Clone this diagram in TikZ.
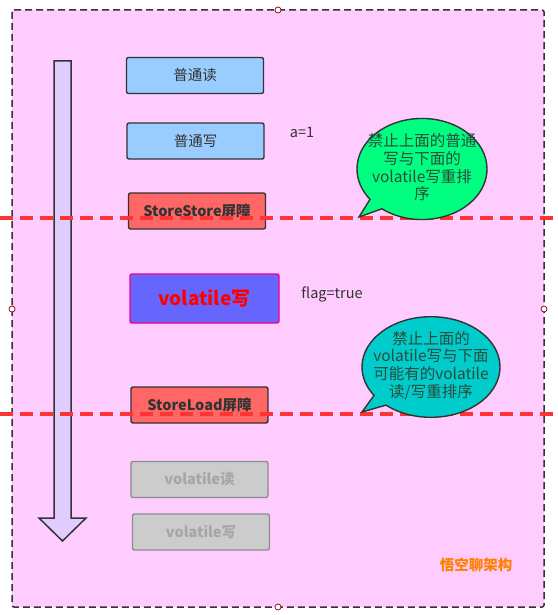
\documentclass[tikz,border=0pt]{standalone}
\usepackage{fontspec}
\newfontfamily\cjk{Noto Sans CJK SC}
\usetikzlibrary{shapes.callouts}
\definecolor{pagebg}{HTML}{FFCCFF}
\definecolor{framegray}{HTML}{333333}
\definecolor{bluebox}{HTML}{99CCFF}
\definecolor{redbox}{HTML}{FF6666}
\definecolor{violetbox}{HTML}{6666FF}
\definecolor{graybox}{HTML}{CCCCCC}
\definecolor{graytext}{HTML}{A6A6A6}
\definecolor{barrier}{HTML}{FF3333}
\definecolor{shaftfill}{HTML}{E0CCFF}
\definecolor{greencall}{HTML}{00FF80}
\definecolor{cyancall}{HTML}{00CCCC}
\definecolor{brand}{HTML}{FF8000}
\definecolor{calltext}{HTML}{2B4A3C}
% fixed-width text block for the callouts
\newcommand{\bubbletext}[1]{\makebox[86pt]{\begin{tabular}{@{}c@{}}#1\end{tabular}}}

\begin{document}
\begin{tikzpicture}[
    x=1pt,y=-1pt,
    box/.style={draw=framegray,rounded corners=2pt,line width=1.4pt,
        minimum width=137pt,minimum height=36pt,text=framegray,
        font={\cjk\fontsize{14.5}{16}\selectfont}},
    fence/.style={box,fill=redbox,font={\cjk\bfseries\fontsize{14.5}{16}\selectfont}},
    faded/.style={box,fill=graybox,draw=black!45,text=graytext,
        font={\cjk\bfseries\fontsize{14.5}{16}\selectfont}},
    remark/.style={text=framegray,font={\cjk\fontsize{14.5}{16}\selectfont}},
    bubble/.style={ellipse callout,draw=framegray,line width=1.4pt,
        text=calltext,inner sep=0pt,
        font={\cjk\fontsize{15.5}{16}\selectfont}},
    cut/.style={barrier,line width=3.3pt,dash pattern=on 13pt off 7pt},
    handle/.style={draw=red!50!black,fill=white,line width=.7pt},
    ]
    \useasboundingbox (0,0) rectangle (557,615);
    % Background frame
    \draw[fill=pagebg,draw=framegray,line width=1.5pt,
          dash pattern=on 7pt off 4pt,rounded corners=2pt]
         (12,10) rectangle (544,607);
    % Program order arrow
    \draw[fill=shaftfill,draw=framegray,line width=1.5pt]
         (54,61) -- (71,61) -- (71,518) -- (86,518) -- (62.5,541)
         -- (39,518) -- (54,518) -- cycle;
    % Instructions
    \node[box,fill=bluebox] (read) at (195,75.5) {普通读};
    \node[box,fill=bluebox] (write) at (195.5,141) {普通写};
    \node[remark] (assign) at (302,132) {a=1};
    \node[fence] (storestore) at (197,211) {StoreStore屏障};
    \node[box,fill=violetbox,draw=magenta,minimum width=149pt,
          minimum height=49pt,text=red,
          font={\cjk\bfseries\fontsize{19}{21}\selectfont}]
         (vwrite) at (204.5,298.5) {volatile写};
    \node[remark] (flag) at (332,294) {flag=true};
    \node[fence] (storeload) at (199.5,405) {StoreLoad屏障};
    \node[faded] (vread2) at (199.5,479.5) {volatile读};
    \node[faded] (vwrite2) at (201,532) {volatile写};
    % Barrier lines
    \coordinate (ssleft) at (0,218);
    \coordinate (ssright) at (557,218);
    \coordinate (slleft) at (0,414);
    \coordinate (slright) at (557,414);
    \draw[cut] (ssleft) -- (ssright);
    \draw[cut] (slleft) -- (slright);
    % Callouts
    \node[bubble,fill=greencall,minimum width=130pt,minimum height=94pt,
          callout absolute pointer={(359,217)}]
         (note1) at (422,169)
         {\bubbletext{禁止上面的普通\\写与下面的\\volatile写重排\\序}};
    \node[bubble,fill=cyancall,minimum width=138pt,minimum height=90pt,
          callout absolute pointer={(362,412)}]
         (note2) at (431,367)
         {\bubbletext{禁止上面的\\volatile写与下面\\可能有的volatile\\读/写重排序}};
    % Brand
    \node[text=brand,font={\cjk\bfseries\fontsize{14.5}{16}\selectfont}]
         (brand) at (476,565) {悟空聊架构};
    % Selection handles
    \foreach \hx/\hy in {278/10,12/309,544/309,278/607}
        \draw[handle] (\hx,\hy) circle (3pt);
\end{tikzpicture}
\end{document}
